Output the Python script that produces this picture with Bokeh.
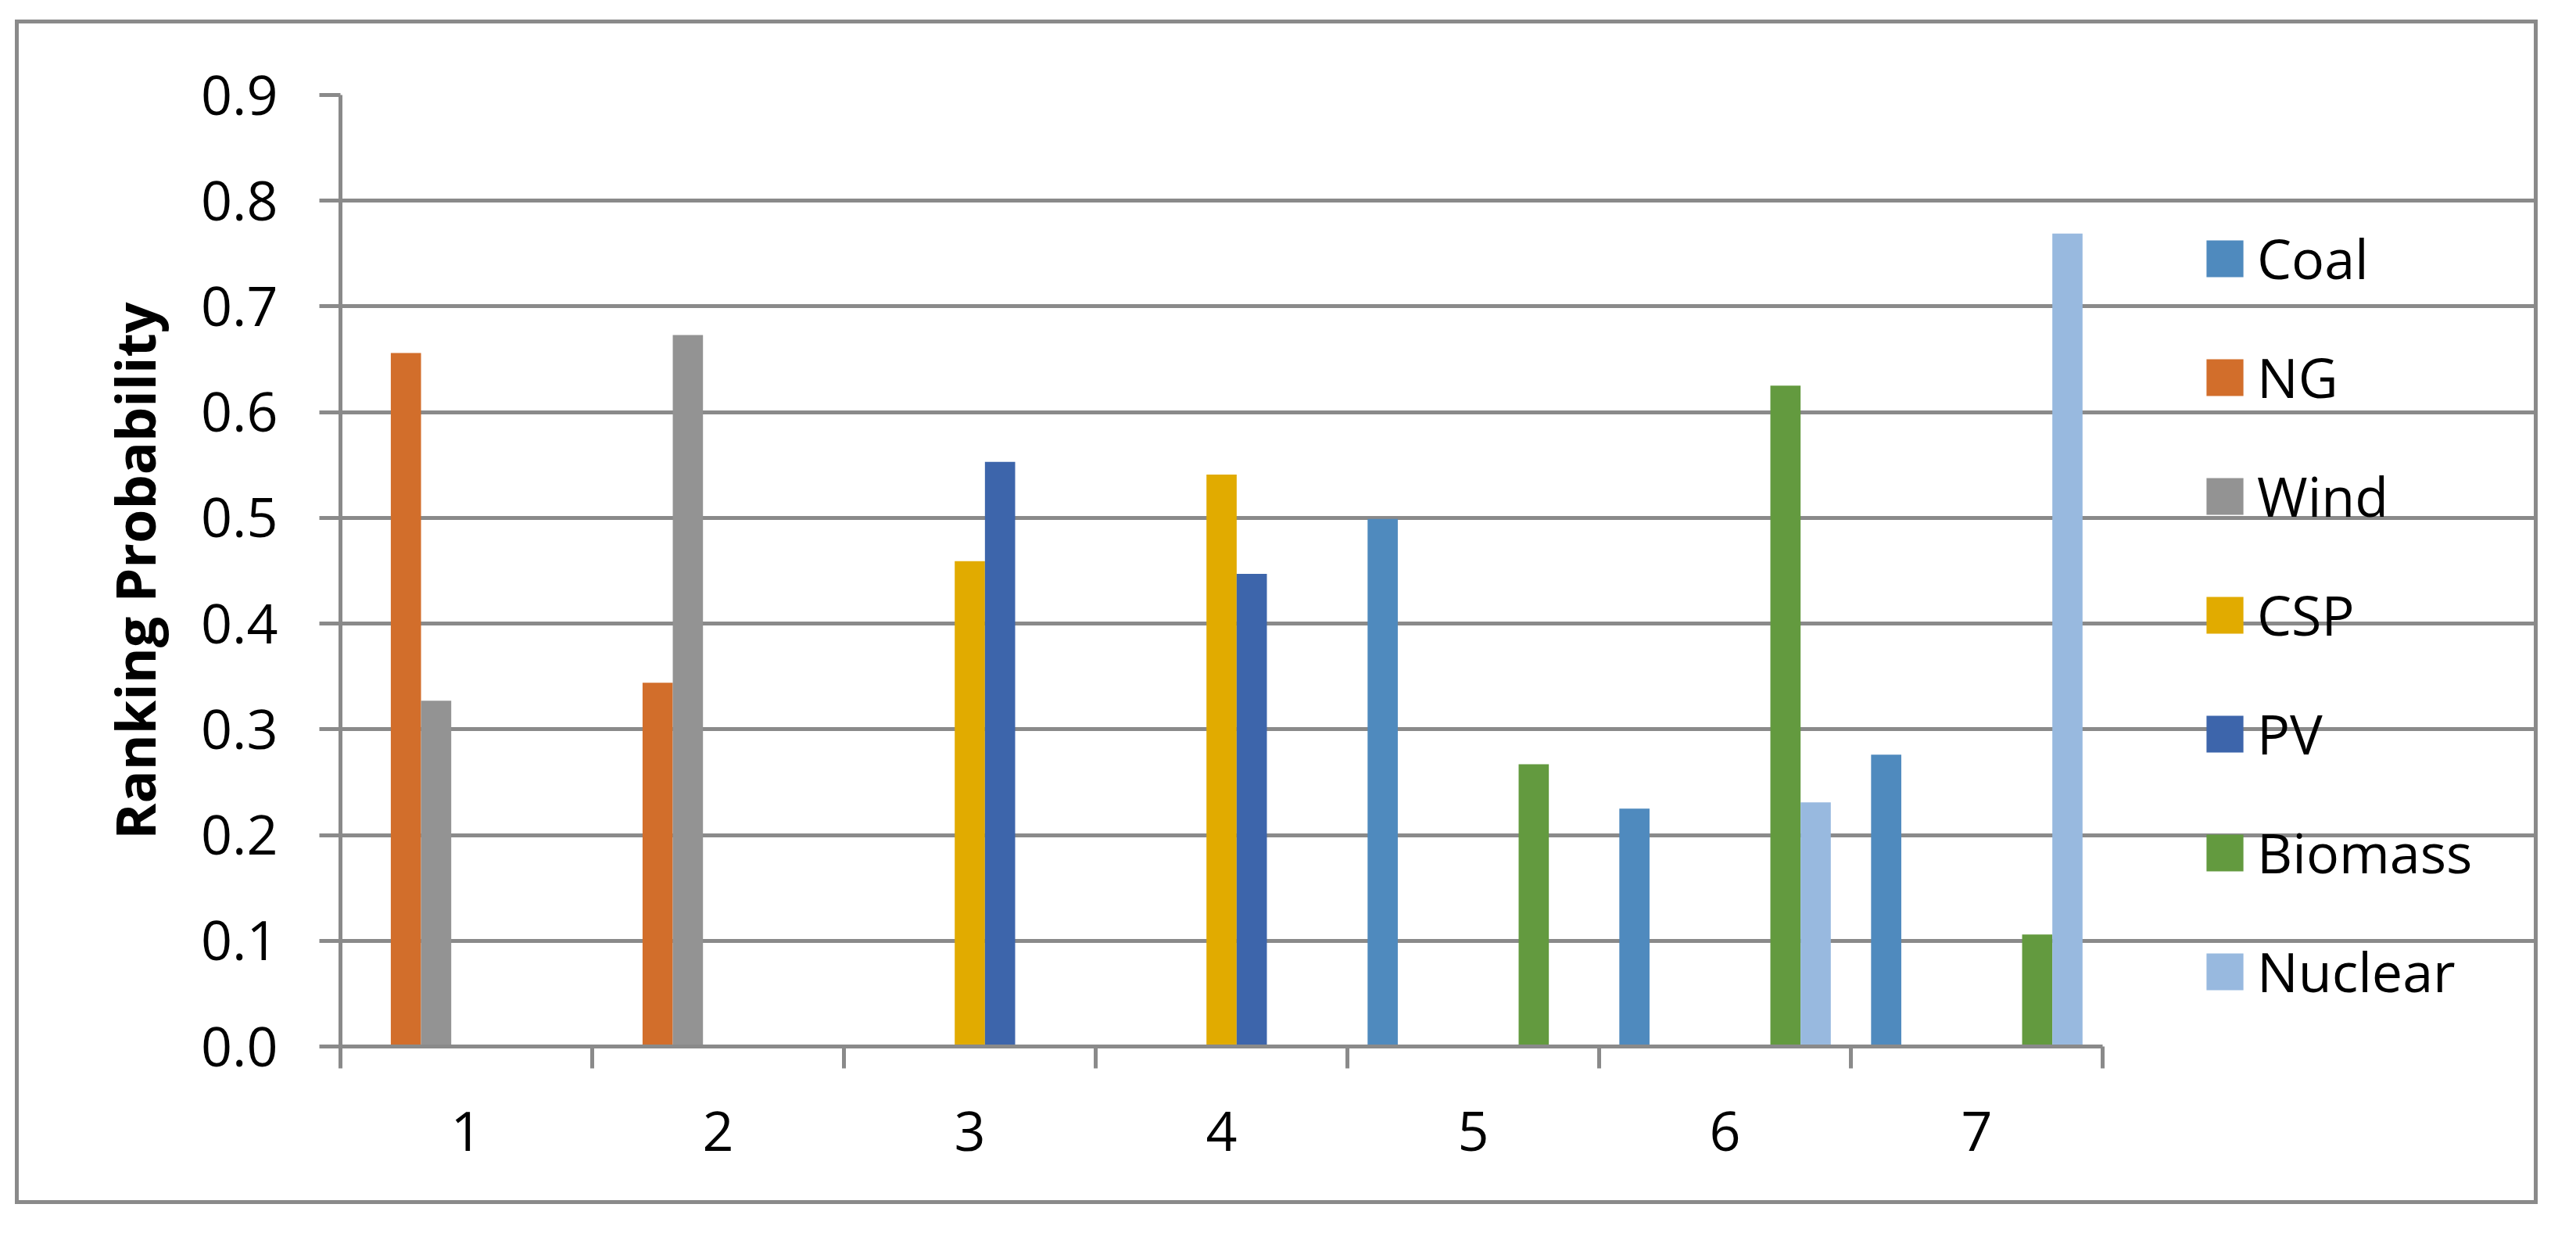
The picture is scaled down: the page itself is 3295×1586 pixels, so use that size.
from bokeh.plotting import figure
from bokeh.models import (ColumnDataSource, FixedTicker, Range1d, Legend, LegendItem,
                          PrintfTickFormatter)
from bokeh.transform import dodge
from bokeh.embed import file_html
from bokeh.resources import INLINE

# ---------------- data ----------------
ranks = [1, 2, 3, 4, 5, 6, 7]
coal = [0.0, 0.0, 0.0, 0.0, 0.499, 0.225, 0.276]
ng = [0.656, 0.344, 0.0, 0.0, 0.0, 0.0, 0.0]
wind = [0.327, 0.673, 0.0, 0.0, 0.0, 0.0, 0.0]
csp = [0.0, 0.0, 0.459, 0.541, 0.0, 0.0, 0.0]
pv = [0.0, 0.0, 0.553, 0.447, 0.0, 0.0, 0.0]
biomass = [0.0, 0.0, 0.0, 0.0, 0.267, 0.625, 0.106]
nuclear = [0.0, 0.0, 0.0, 0.0, 0.0, 0.231, 0.769]
series_names = ["Coal", "NG", "Wind", "CSP", "PV", "Biomass", "Nuclear"]
series_colors = ["#4F8ABE", "#D26E2B", "#939393", "#E1AB00", "#3D65AB", "#639A3F", "#98B9DF"]
y_ticks = [0.0, 0.1, 0.2, 0.3, 0.4, 0.5, 0.6, 0.7, 0.8, 0.9]
category_bounds = [0.5, 1.5, 2.5, 3.5, 4.5, 5.5, 6.5, 7.5]
y_axis_title = "Ranking Probability"

source = ColumnDataSource(dict(rank=ranks, Coal=coal, NG=ng, Wind=wind, CSP=csp,
                               PV=pv, Biomass=biomass, Nuclear=nuclear))

FONT = "Open Sans"
GRID = "#8A8A8A"
W, H = 3227, 1515

# frame widened to the right so the legend sits inside it (axis/grid limited by bounds)
p = figure(width=W, height=H, x_range=Range1d(0.5, 9.214), y_range=Range1d(0, 0.9),
           output_backend="svg", toolbar_location=None,
           min_border_left=411, min_border_right=10, min_border_top=91, min_border_bottom=207,
           styles={"margin-left": "19px", "margin-top": "25px",
                   "border": "5px solid #8A8A8A"})
p.background_fill_color = "white"
p.border_fill_color = "white"
p.outline_line_color = None

bar_w = 0.12
items = []
for i, name in enumerate(series_names):
    r = p.vbar(x=dodge("rank", (i - 3) * bar_w, range=p.x_range), top=name, width=bar_w,
               source=source, fill_color=series_colors[i], line_color=None)
    items.append(LegendItem(label=name, renderers=[r]))

# grid
p.xgrid.visible = False
p.ygrid.ticker = FixedTicker(ticks=y_ticks)
p.ygrid.grid_line_color = GRID
p.ygrid.grid_line_width = 5
p.ygrid.bounds = (0.5, 7.5)

# y axis
ya = p.yaxis[0]
ya.ticker = FixedTicker(ticks=y_ticks)
ya.formatter = PrintfTickFormatter(format="%.1f")
ya.axis_line_color = GRID
ya.axis_line_width = 5
ya.major_tick_line_color = GRID
ya.major_tick_line_width = 5
ya.major_tick_out = 27
ya.major_tick_in = 0
ya.minor_tick_line_color = None
ya.major_label_standoff = 53
ya.major_label_text_font = FONT
ya.major_label_text_font_size = "70px"
ya.major_label_text_color = "black"
ya.axis_label = y_axis_title
ya.axis_label_text_font = FONT
ya.axis_label_text_font_style = "bold"
ya.axis_label_text_font_size = "70px"
ya.axis_label_text_color = "black"
ya.axis_label_standoff = 34

# x axis
xa = p.xaxis[0]
xa.bounds = (0.5, 7.5)
xa.ticker = FixedTicker(ticks=ranks, minor_ticks=category_bounds)
xa.axis_line_color = GRID
xa.axis_line_width = 5
xa.major_tick_line_color = None
xa.major_tick_out = 0
xa.major_tick_in = 0
xa.minor_tick_line_color = GRID
xa.minor_tick_line_width = 5
xa.minor_tick_out = 28
xa.minor_tick_in = 0
xa.major_label_standoff = 55
xa.major_label_text_font = FONT
xa.major_label_text_font_size = "70px"
xa.major_label_text_color = "black"

legend = Legend(items=items, location=(2381, 47.7), orientation="vertical",
                glyph_width=59, glyph_height=59, label_height=59, spacing=56,
                padding=0, margin=0, label_standoff=12,
                border_line_color=None, background_fill_alpha=0,
                label_text_font=FONT, label_text_font_size="70px", label_text_color="black")
p.add_layout(legend)

open("out.html", "w").write(file_html(p, INLINE))
